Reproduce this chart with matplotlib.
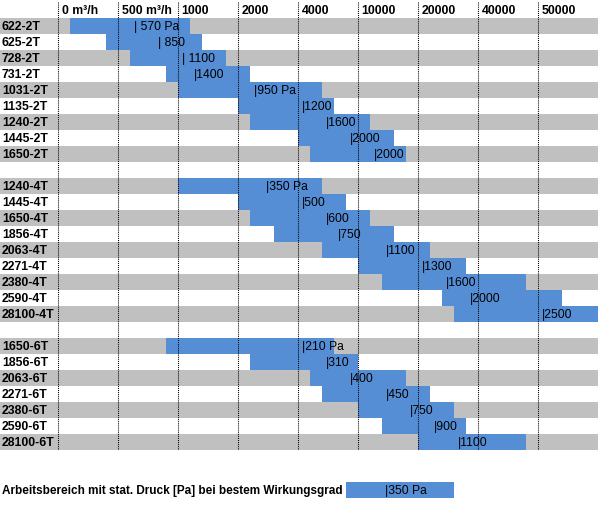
import matplotlib.pyplot as plt

plt.rcParams.update({"font.family": ["Liberation Sans", "DejaVu Sans"]})

# x values are in grid columns of the sheet (one column per header value,
# each column split into 5 cells)
header = ["0 m³/h", "500 m³/h", "1000", "2000", "4000",
          "10000", "20000", "40000", "50000"]

models_2t = ["622-2T", "625-2T", "728-2T", "731-2T", "1031-2T",
             "1135-2T", "1240-2T", "1445-2T", "1650-2T"]
start_2t = [0.2, 0.8, 1.2, 1.8, 2.0, 3.0, 3.2, 4.0, 4.2]
end_2t = [2.2, 2.4, 2.8, 3.2, 4.4, 4.6, 5.2, 5.6, 5.8]
best_2t = [1.2, 1.6, 2.0, 2.2, 3.2, 4.0, 4.4, 4.8, 5.2]
label_2t = ["| 570 Pa", "| 850", "| 1100", "|1400", "|950 Pa",
            "|1200", "|1600", "|2000", "|2000"]

models_4t = ["1240-4T", "1445-4T", "1650-4T", "1856-4T", "2063-4T",
             "2271-4T", "2380-4T", "2590-4T", "28100-4T"]
start_4t = [2.0, 3.0, 3.2, 3.6, 4.4, 5.0, 5.4, 6.4, 6.6]
end_4t = [4.4, 4.8, 5.2, 5.6, 6.2, 6.8, 7.8, 8.4, 9.0]
best_4t = [3.4, 4.0, 4.4, 4.6, 5.4, 6.0, 6.4, 6.8, 8.0]
label_4t = ["|350 Pa", "|500", "|600", "|750", "|1100",
            "|1300", "|1600", "|2000", "|2500"]

models_6t = ["1650-6T", "1856-6T", "2063-6T", "2271-6T",
             "2380-6T", "2590-6T", "28100-6T"]
start_6t = [1.8, 3.2, 4.2, 4.4, 5.0, 5.4, 6.0]
end_6t = [4.6, 5.0, 5.8, 6.2, 6.6, 6.8, 7.8]
best_6t = [4.0, 4.4, 4.8, 5.4, 5.8, 6.2, 6.6]
label_6t = ["|210 Pa", "|310", "|400", "|450", "|750", "|900", "|1100"]

legend_text = "Arbeitsbereich mit stat. Druck [Pa] bei bestem Wirkungsgrad"
legend_start, legend_end, legend_best, legend_label = 4.8, 6.6, 5.4, "|350 Pa"

BLUE = "#558ED5"
GRAY = "#C0C0C0"
W, H = 598, 506
COL = 60          # px per column
LEFT = 58         # px of the name column
ROW = 16          # px per row
TOP = 19          # px of the header row

fig = plt.figure(figsize=(W / 100, H / 100), dpi=100)
ax = fig.add_axes([0, 0, 1, 1])
ax.set_xlim(-LEFT / COL, (W - LEFT) / COL)
ax.set_ylim((H - TOP) / ROW - 0.5, -TOP / ROW - 0.5)
ax.axis("off")

groups = [
    (0, models_2t, start_2t, end_2t, best_2t, label_2t),
    (10, models_4t, start_4t, end_4t, best_4t, label_4t),
    (20, models_6t, start_6t, end_6t, best_6t, label_6t),
]

pad = 4 / COL
xmin = -LEFT / COL
for first, models, starts, ends, bests, labels in groups:
    for i, name in enumerate(models):
        r = first + i
        if r % 2 == 0:
            ax.barh(r, W / COL, left=xmin, height=1.0, color=GRAY, zorder=1)
        ax.barh(r, ends[i] - starts[i], left=starts[i], height=1.0,
                color=BLUE, zorder=2)
        ax.text(xmin + 2 / COL, r, name, fontsize=8.8, fontweight="bold",
                va="center", ha="left", zorder=4)
        ax.text(bests[i] + pad, r, labels[i], fontsize=8.7,
                va="center", ha="left", zorder=4)

# header and dotted column lines
for j, h in enumerate(header):
    ax.text(j + 3.5 / COL, -1, h, fontsize=8.8, fontweight="bold",
            va="center", ha="left", zorder=4)
    ax.plot([j, j], [-TOP / ROW - 0.5 + 3 / ROW, 26.5], color="black",
            linewidth=0.75, linestyle=(0, (1, 1)), zorder=3)

# legend row
lr = 29
ax.barh(lr, legend_end - legend_start, left=legend_start, height=1.0,
        color=BLUE, zorder=2)
ax.text(legend_best + 3 / COL, lr, legend_label, fontsize=8.7,
        va="center", ha="left", zorder=4)
ax.text(xmin + 2 / COL, lr, legend_text, fontsize=8.5, fontweight="bold",
        va="center", ha="left", zorder=4)

fig.savefig("out.png", dpi=100)
